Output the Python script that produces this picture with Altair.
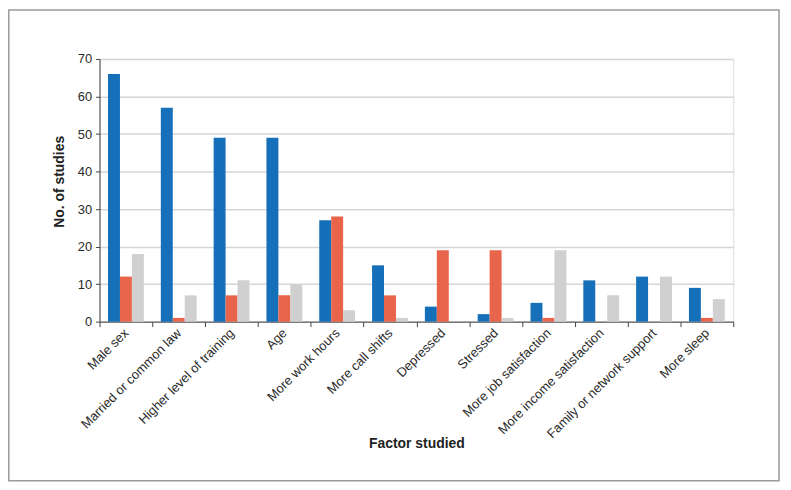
import altair as alt
import pandas as pd

categories = ["Male sex", "Married or common law", "Higher level of training", "Age",
              "More work hours", "More call shifts", "Depressed", "Stressed",
              "More job satisfaction", "More income satisfaction",
              "Family or network support", "More sleep"]
series_names = ["Series 1", "Series 2", "Series 3"]
series1 = [66, 57, 49, 49, 27, 15, 4, 2, 5, 11, 12, 9]
series2 = [12, 1, 7, 7, 28, 7, 19, 19, 1, 0, 0, 1]
series3 = [18, 7, 11, 10, 3, 1, 0, 1, 19, 7, 12, 6]
colors = ["#1570b9", "#e8644a", "#d0d0d0"]
y_ticks = [0, 10, 20, 30, 40, 50, 60, 70]

rows = []
for s_name, vals in zip(series_names, [series1, series2, series3]):
    for c, v in zip(categories, vals):
        rows.append({"Factor": c, "Series": s_name, "Value": v})
df = pd.DataFrame(rows)

FONT = "Liberation Sans"

bars = alt.Chart(df).mark_bar().encode(
    x=alt.X("Factor:N", sort=categories,
            scale=alt.Scale(paddingInner=0, paddingOuter=0),
            axis=alt.Axis(title="Factor studied", labelAngle=-45, labelAlign="right",
                          labelBaseline="middle", labelPadding=4, labelFontSize=13,
                          labelColor="#2a2a2a", labelFont=FONT, tickBand="extent",
                          tickSize=5, tickColor="#444", domainColor="#444",
                          titleFont=FONT, titleFontSize=14, titleFontWeight="bold",
                          titleColor="#222", titleY=123, titleBaseline="middle",
                          grid=False, labelLimit=300)),
    xOffset=alt.XOffset("Series:N", sort=series_names,
                        scale=alt.Scale(paddingOuter=0.71, paddingInner=0)),
    y=alt.Y("Value:Q", scale=alt.Scale(domain=[0, 70], nice=False),
            axis=alt.Axis(title="No. of studies", values=y_ticks, labelFontSize=13,
                          labelColor="#2a2a2a", labelFont=FONT, tickSize=4,
                          tickColor="#444", domainColor="#444", gridColor="#d6d6d6",
                          gridWidth=1.5, titleFont=FONT, titleFontSize=14,
                          titleFontWeight="bold", titleColor="#222",
                          titleX=-40, titleY=123, titleBaseline="middle",
                          labelPadding=4)),
    color=alt.Color("Series:N", sort=series_names,
                    scale=alt.Scale(domain=series_names, range=colors), legend=None),
)

frame = alt.Chart(pd.DataFrame({"k": [0]})).mark_rect(
    fill=None, stroke="#9a9a9a", strokeWidth=1.5, clip=False
).encode(
    x=alt.value(-91.2), x2=alt.value(683), y=alt.value(-49.2), y2=alt.value(424)
)

chart = alt.layer(frame, bars).properties(
    width=637, height=264,
    autosize=alt.AutoSizeParams(type="none"),
    padding={"left": 92, "top": 50, "right": 50, "bottom": 170},
).configure_view(stroke="#8a8a8a", strokeWidth=1.5).configure(background="white")

chart.save("out.html", embed_options={"renderer": "svg", "actions": False})
